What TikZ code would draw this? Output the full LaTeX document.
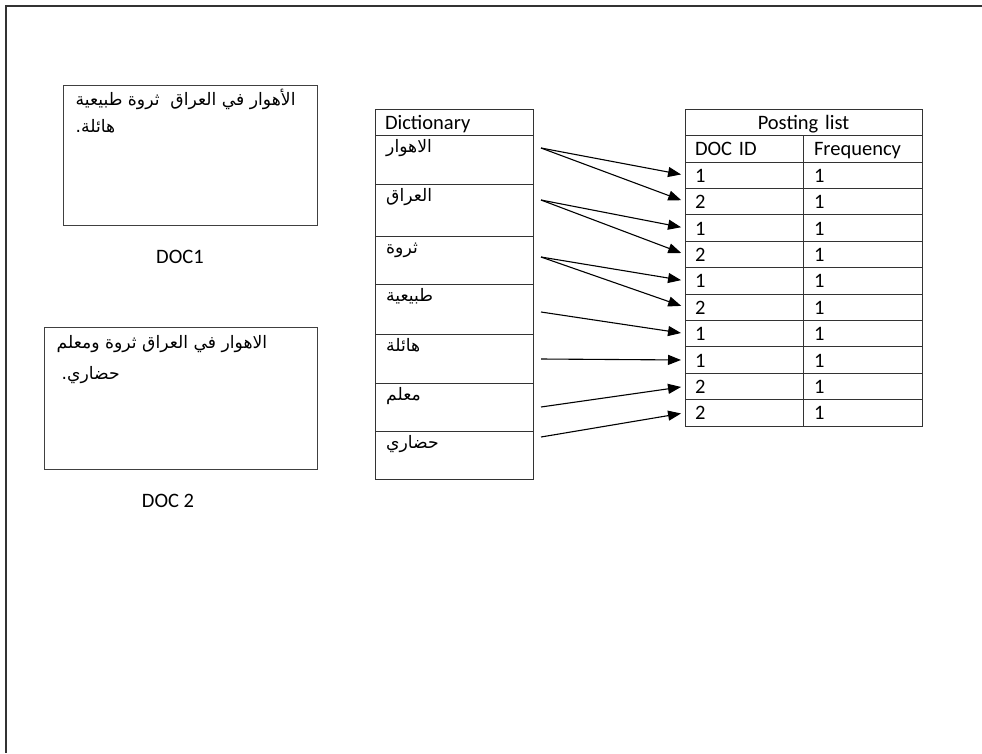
\documentclass[tikz,border=0pt]{standalone}
\usepackage{fontspec}
\setmainfont{Carlito}
\newfontfamily\arabicfont[Script=Arabic]{DejaVu Sans}
\TeXXeTstate=1
\usetikzlibrary{arrows.meta,positioning}

\begin{document}
\begin{tikzpicture}
  [x=1pt,y=-1pt,
   every node/.style={font=\fontsize{20.5}{24}\selectfont},
   box/.style={draw=black!75,line width=1pt},
   cell/.style={draw=black!80,line width=1pt,inner sep=0pt,inner xsep=10pt,
     outer sep=0pt,anchor=north west,align=left,text height=17pt,text depth=3pt},
   ar/.style={font=\arabicfont\fontsize{17.2}{20}\selectfont,inner sep=0pt},
   link/.style={-{Triangle[length=13pt,width=10pt]},line width=1.1pt,shorten >=4pt}]
  \useasboundingbox (0,0) rectangle (982,753);
  \draw[line width=1.2pt,black!80] (982,6) -- (6,6) -- (6,753);

  % documents
  \node[box,minimum width=254pt,minimum height=140pt] (doc1) at (190,155) {};
  \node[ar,anchor=base west] (doc1a) at ([shift={(13,21)}]doc1.north west)
    {\beginR الأهوار في العراق\ \ ثروة طبيعية\endR};
  \node[ar,anchor=base west] (doc1b) at ([shift={(13,48)}]doc1.north west)
    {\beginR هائلة.\endR};
  \node (lab1) at (180,257) {DOC1};

  \node[box,minimum width=273pt,minimum height=142pt] (doc2) at (180.5,398) {};
  \node[ar,anchor=base west] (doc2a) at ([shift={(13,22)}]doc2.north west)
    {\beginR الاهوار في العراق ثروة ومعلم\endR};
  \node[ar,anchor=base west] (doc2b) at ([shift={(18,53)}]doc2.north west)
    {\beginR حضاري.\endR};
  \node (lab2) at (168,501) {DOC 2};

  % dictionary
  \node[cell,text width=138pt,minimum height=26.5pt] (dhead) at (375,109) {Dictionary};
  \foreach \n/\top/\bot/\word in {1/135.5/184/الاهوار,2/184/236/العراق,3/236/284/ثروة,
      4/284/334/طبيعية,5/334/383/هائلة,6/383/431/معلم,7/431/479/حضاري}
  {
    \node[cell,minimum width=158pt,minimum height={(\bot-\top)*1pt}] (d\n) at (375,\top) {};
    \node[ar,anchor=base west] (w\n) at ([shift={(11,17)}]d\n.north west) {\beginR\word\endR};
  }

  % posting list
  \node[cell,text width=217pt,align=center,minimum height=26.5pt] (phead) at (685,109) {Posting list};
  \node[cell,text width=98pt,minimum height=26.5pt] (pidh) at (685,135.5) {DOC ID};
  \node[cell,text width=97pt,inner xsep=11pt,minimum height=26.5pt] (pfrh) at (pidh.north east) {Frequency};
  \foreach \id [count=\n] in {1,2,1,2,1,2,1,1,2,2}
  {
    \node[cell,text width=98pt,minimum height=26.4pt] (pid\n) at (685,{162+(\n-1)*26.4}) {\id};
    \node[cell,text width=97pt,inner xsep=11pt,minimum height=26.4pt] (pfr\n) at (pid\n.north east) {1};
  }

  % links
  \foreach \n/\y in {1/148,2/200,3/257,4/312,5/359,6/407,7/437}
    \coordinate (s\n) at (541,\y);
  \foreach \from/\to in {1/1,1/2,2/3,2/4,3/5,3/6,4/7,5/8,6/9,7/10}
    \draw[link] (s\from) -- (pid\to.west);
\end{tikzpicture}
\end{document}
